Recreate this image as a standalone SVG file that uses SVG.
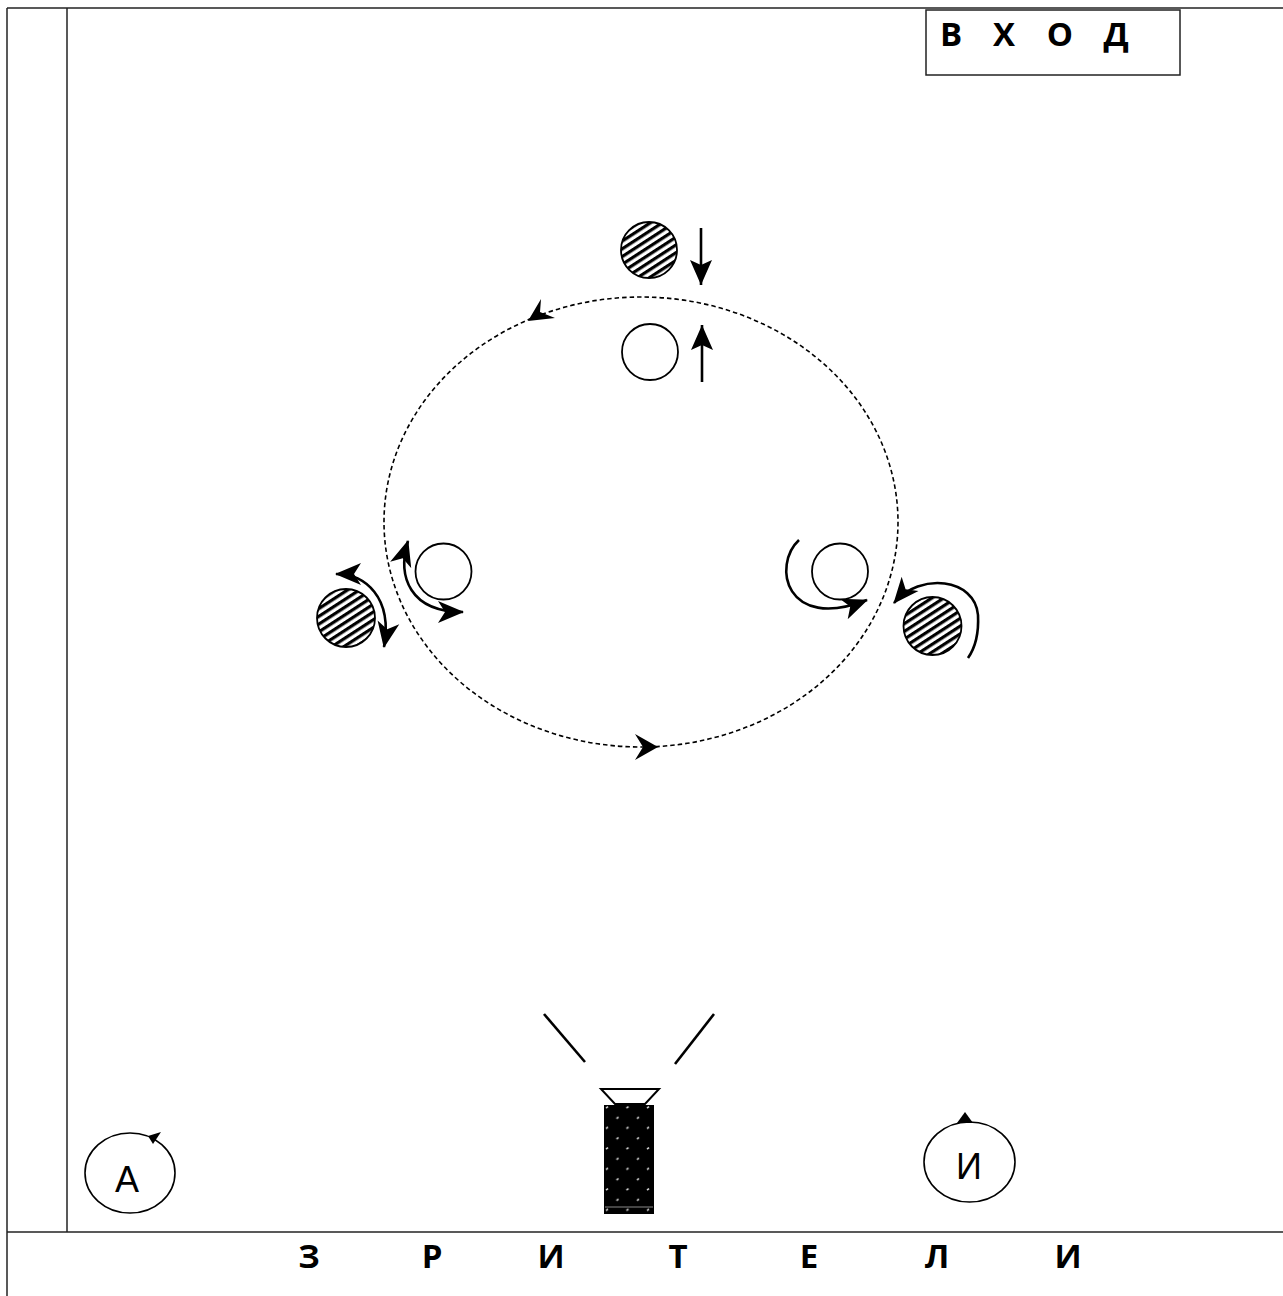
<svg xmlns="http://www.w3.org/2000/svg" width="1283" height="1296" viewBox="0 0 1283 1296">
<style>
.frame{stroke:#222;stroke-width:1.5;fill:none}
.ln{stroke:#000;stroke-width:2.6;fill:none}
.circ{stroke:#000;stroke-width:1.8;fill:#fff}
.hat{stroke:#000;stroke-width:1.8;fill:url(#hatch)}
.lbl{font-family:"Open Sans","Liberation Sans",sans-serif;font-weight:bold;font-size:33px;fill:#000;text-anchor:middle}
.nm{font-family:"Liberation Sans","Open Sans",sans-serif;font-size:36px;fill:#000;text-anchor:middle}
</style>
<defs>
<pattern id="hatch" patternUnits="userSpaceOnUse" width="6.5" height="6.5" patternTransform="rotate(-33)">
<rect width="6.5" height="6.5" fill="#fff"/>
<rect width="6.5" height="3.2" fill="#000"/>
</pattern>
<pattern id="dots" patternUnits="userSpaceOnUse" x="604" y="1105" width="20.5" height="20.5">
<rect width="20.5" height="20.5" fill="#000"/>
<path d="M2,3 L4,1.5 M12.5,13.5 L14.5,12" stroke="#ddd" stroke-width="1.6"/>
</pattern>
<marker id="ah" markerUnits="userSpaceOnUse" markerWidth="28" markerHeight="24" refX="25" refY="11" orient="auto-start-reverse" viewBox="0 0 28 22">
<path d="M0,0 L26,11 L0,22 L7,11 z" fill="#000"/>
</marker>
<marker id="ahs" markerUnits="userSpaceOnUse" markerWidth="26" markerHeight="24" refX="25" refY="11" orient="auto" viewBox="0 0 26 22">
<path d="M0,0 L25,11 L0,22 L5,11 z" fill="#000"/>
</marker>
</defs>

<g id="frame">
<line class="frame" x1="7" y1="8" x2="1283" y2="8"/>
<line class="frame" x1="7" y1="8" x2="7" y2="1296"/>
<line class="frame" x1="67" y1="8" x2="67" y2="1232"/>
<line class="frame" x1="7" y1="1232" x2="1283" y2="1232"/>
</g>

<g id="vhod">
<rect x="926" y="10" width="254" height="65" fill="#fff" stroke="#222" stroke-width="1.5"/>
<text class="lbl" y="46"><tspan x="951">В</tspan><tspan x="1004">Х</tspan><tspan x="1060">О</tspan><tspan x="1116">Д</tspan></text>
</g>

<g id="zriteli">
<text class="lbl" y="1268"><tspan x="309">З</tspan><tspan x="432">Р</tspan><tspan x="551">И</tspan><tspan x="678">Т</tspan><tspan x="809">Е</tspan><tspan x="937">Л</tspan><tspan x="1068">И</tspan></text>
</g>

<g id="connectors">
<ellipse cx="641" cy="522" rx="257" ry="225" fill="none" stroke="#000" stroke-width="1.6" stroke-dasharray="4.5 3"/>
<polygon points="528,321 541,299 540,312 555,318" fill="#000"/>
<polygon points="658,747 635,734 643,747 635,760" fill="#000"/>
<line class="ln" x1="701" y1="228" x2="701" y2="285" marker-end="url(#ahs)"/>
<line class="ln" x1="702" y1="382" x2="702" y2="325" marker-end="url(#ahs)"/>
<path class="ln" d="M336,574 C365,574 393,597 384,647" marker-start="url(#ah)" marker-end="url(#ah)"/>
<path class="ln" d="M408,541 C397,577 410,612 463,612" marker-start="url(#ah)" marker-end="url(#ah)"/>
<path class="ln" d="M799,540 C772,565 785,632 867,600" marker-end="url(#ah)"/>
<path class="ln" d="M894,603 C920,572 975,578 978,615 C979,635 975,648 968,658" marker-start="url(#ah)"/>
<line class="ln" x1="544" y1="1014" x2="585" y2="1062"/>
<line class="ln" x1="714" y1="1014" x2="675" y2="1064"/>
</g>

<g id="top-hatched"><circle class="hat" cx="649" cy="250" r="28"/></g>
<g id="top-white"><circle class="circ" cx="650" cy="352" r="28"/></g>
<g id="left-white"><circle class="circ" cx="443.5" cy="571.5" r="28"/></g>
<g id="left-hatched"><circle class="hat" cx="346" cy="618" r="29"/></g>
<g id="right-white"><circle class="circ" cx="840" cy="571.5" r="28"/></g>
<g id="right-hatched"><circle class="hat" cx="932.5" cy="626" r="29"/></g>

<g id="lamp">
<polygon points="601,1089 659,1089 645,1104 615,1104" fill="#fff" stroke="#000" stroke-width="2"/>
<rect x="604" y="1105" width="50" height="109" fill="url(#dots)"/>
<line x1="605" y1="1207" x2="653" y2="1207" stroke="#888" stroke-width="1"/>
</g>

<g id="node-A">
<ellipse cx="130" cy="1173" rx="45" ry="40" fill="none" stroke="#000" stroke-width="1.6"/>
<polygon points="161,1132 148,1136 153,1144" fill="#000"/>
<text class="nm" x="127" y="1192">А</text>
</g>

<g id="node-I">
<ellipse cx="969.5" cy="1162" rx="45.5" ry="40" fill="none" stroke="#000" stroke-width="1.6"/>
<polygon points="965,1112 957,1123 973,1123" fill="#000"/>
<text class="nm" x="969" y="1179">И</text>
</g>
</svg>
